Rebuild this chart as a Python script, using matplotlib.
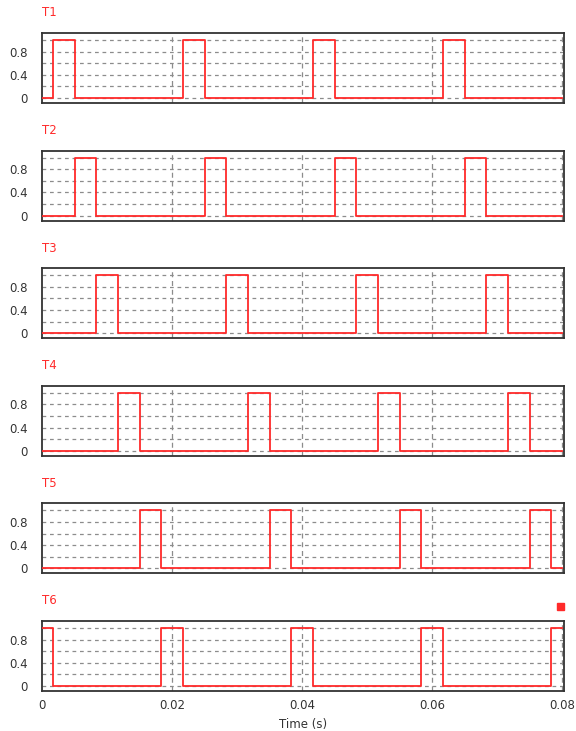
import numpy as np
import matplotlib
matplotlib.use('Agg')
import matplotlib.pyplot as plt

# gate signals T1..T6: (on, off) times in seconds
channel_names = ['T1', 'T2', 'T3', 'T4', 'T5', 'T6']
t1_pulses = [(0.00167, 0.00500), (0.02167, 0.02500), (0.04167, 0.04500), (0.06167, 0.06500)]
t2_pulses = [(0.00500, 0.00833), (0.02500, 0.02833), (0.04500, 0.04833), (0.06500, 0.06833)]
t3_pulses = [(0.00833, 0.01167), (0.02833, 0.03167), (0.04833, 0.05167), (0.06833, 0.07167)]
t4_pulses = [(0.01167, 0.01500), (0.03167, 0.03500), (0.05167, 0.05500), (0.07167, 0.07500)]
t5_pulses = [(0.01500, 0.01833), (0.03500, 0.03833), (0.05500, 0.05833), (0.07500, 0.07833)]
t6_pulses = [(0.0, 0.00167), (0.01833, 0.02167), (0.03833, 0.04167), (0.05833, 0.06167), (0.07833, 0.08)]
all_pulses = [t1_pulses, t2_pulses, t3_pulses, t4_pulses, t5_pulses, t6_pulses]

t_end = 0.08
x_ticks = [0, 0.02, 0.04, 0.06, 0.08]
x_tick_labels = ['0', '0.02', '0.04', '0.06', '0.08']
y_ticks = [0, 0.4, 0.8]
y_tick_labels = ['0', '0.4', '0.8']
y_grid = [0, 0.2, 0.4, 0.6, 0.8, 1.0]


def pulse_trace(pulses, t_stop):
    """Turn a list of (on, off) intervals into step line points"""
    t = [0.0]
    v = [1.0 if pulses[0][0] == 0.0 else 0.0]
    for on, off in pulses:
        if on > 0.0:
            t += [on, on]
            v += [0.0, 1.0]
        if off < t_stop:
            t += [off, off]
            v += [1.0, 0.0]
    t.append(t_stop)
    v.append(v[-1])
    return np.array(t), np.array(v)


plt.rcParams['font.family'] = ['DejaVu Sans']
fig = plt.figure(figsize=(5.76, 7.31), dpi=100)

W, H = 576.0, 731.0
left_px, right_px = 42.0, 564.0
tops_px = [33, 150.6, 268.2, 385.8, 503.4, 621]
height_px = 70.0
red = '#ff2a2a'
grid_col = '#8c8c8c'
text_col = '#333333'

for i, (name, pulses) in enumerate(zip(channel_names, all_pulses)):
    top = tops_px[i]
    ax = fig.add_axes([left_px / W, 1 - (top + height_px) / H,
                       (right_px - left_px) / W, height_px / H])
    for yg in y_grid:
        ax.axhline(yg, color=grid_col, lw=0.9, ls=(0, (3, 3)), zorder=1)
    for xg in x_ticks[1:]:
        ax.axvline(xg, color=grid_col, lw=0.9, ls=(0, (4, 3)), zorder=1)

    t, v = pulse_trace(pulses, t_end)
    ax.plot(t, v, color=red, lw=1.3, zorder=3)

    ax.set_xlim(0, 0.0803)
    ax.set_ylim(-0.085, 1.12)
    ax.set_yticks(y_ticks)
    ax.set_yticklabels(y_tick_labels, fontsize=8.5)
    ax.set_xticks(x_ticks)
    if i == len(channel_names) - 1:
        ax.set_xticklabels(x_tick_labels, fontsize=8.5)
        ax.set_xlabel('Time (s)', fontsize=8.5, labelpad=4, color=text_col)
    else:
        ax.set_xticklabels([])
    ax.tick_params(axis='y', length=0, pad=10.5, colors=text_col)
    ax.tick_params(axis='x', length=0, pad=6, colors=text_col)
    for sp in ax.spines.values():
        sp.set_color('#333333')
        sp.set_linewidth(1.3)

    fig.text(left_px / W, 1 - (top - 20) / H, name, color=red,
             fontsize=8.5, ha='left', va='center')

# small red marker at the top right of the last trace
fig.patches.append(plt.Rectangle(((560 - 3.5) / W, 1 - (606.5 + 3.5) / H),
                                 7 / W, 7 / H, transform=fig.transFigure,
                                 color=red, zorder=5))

fig.savefig('out.png', dpi=100)
